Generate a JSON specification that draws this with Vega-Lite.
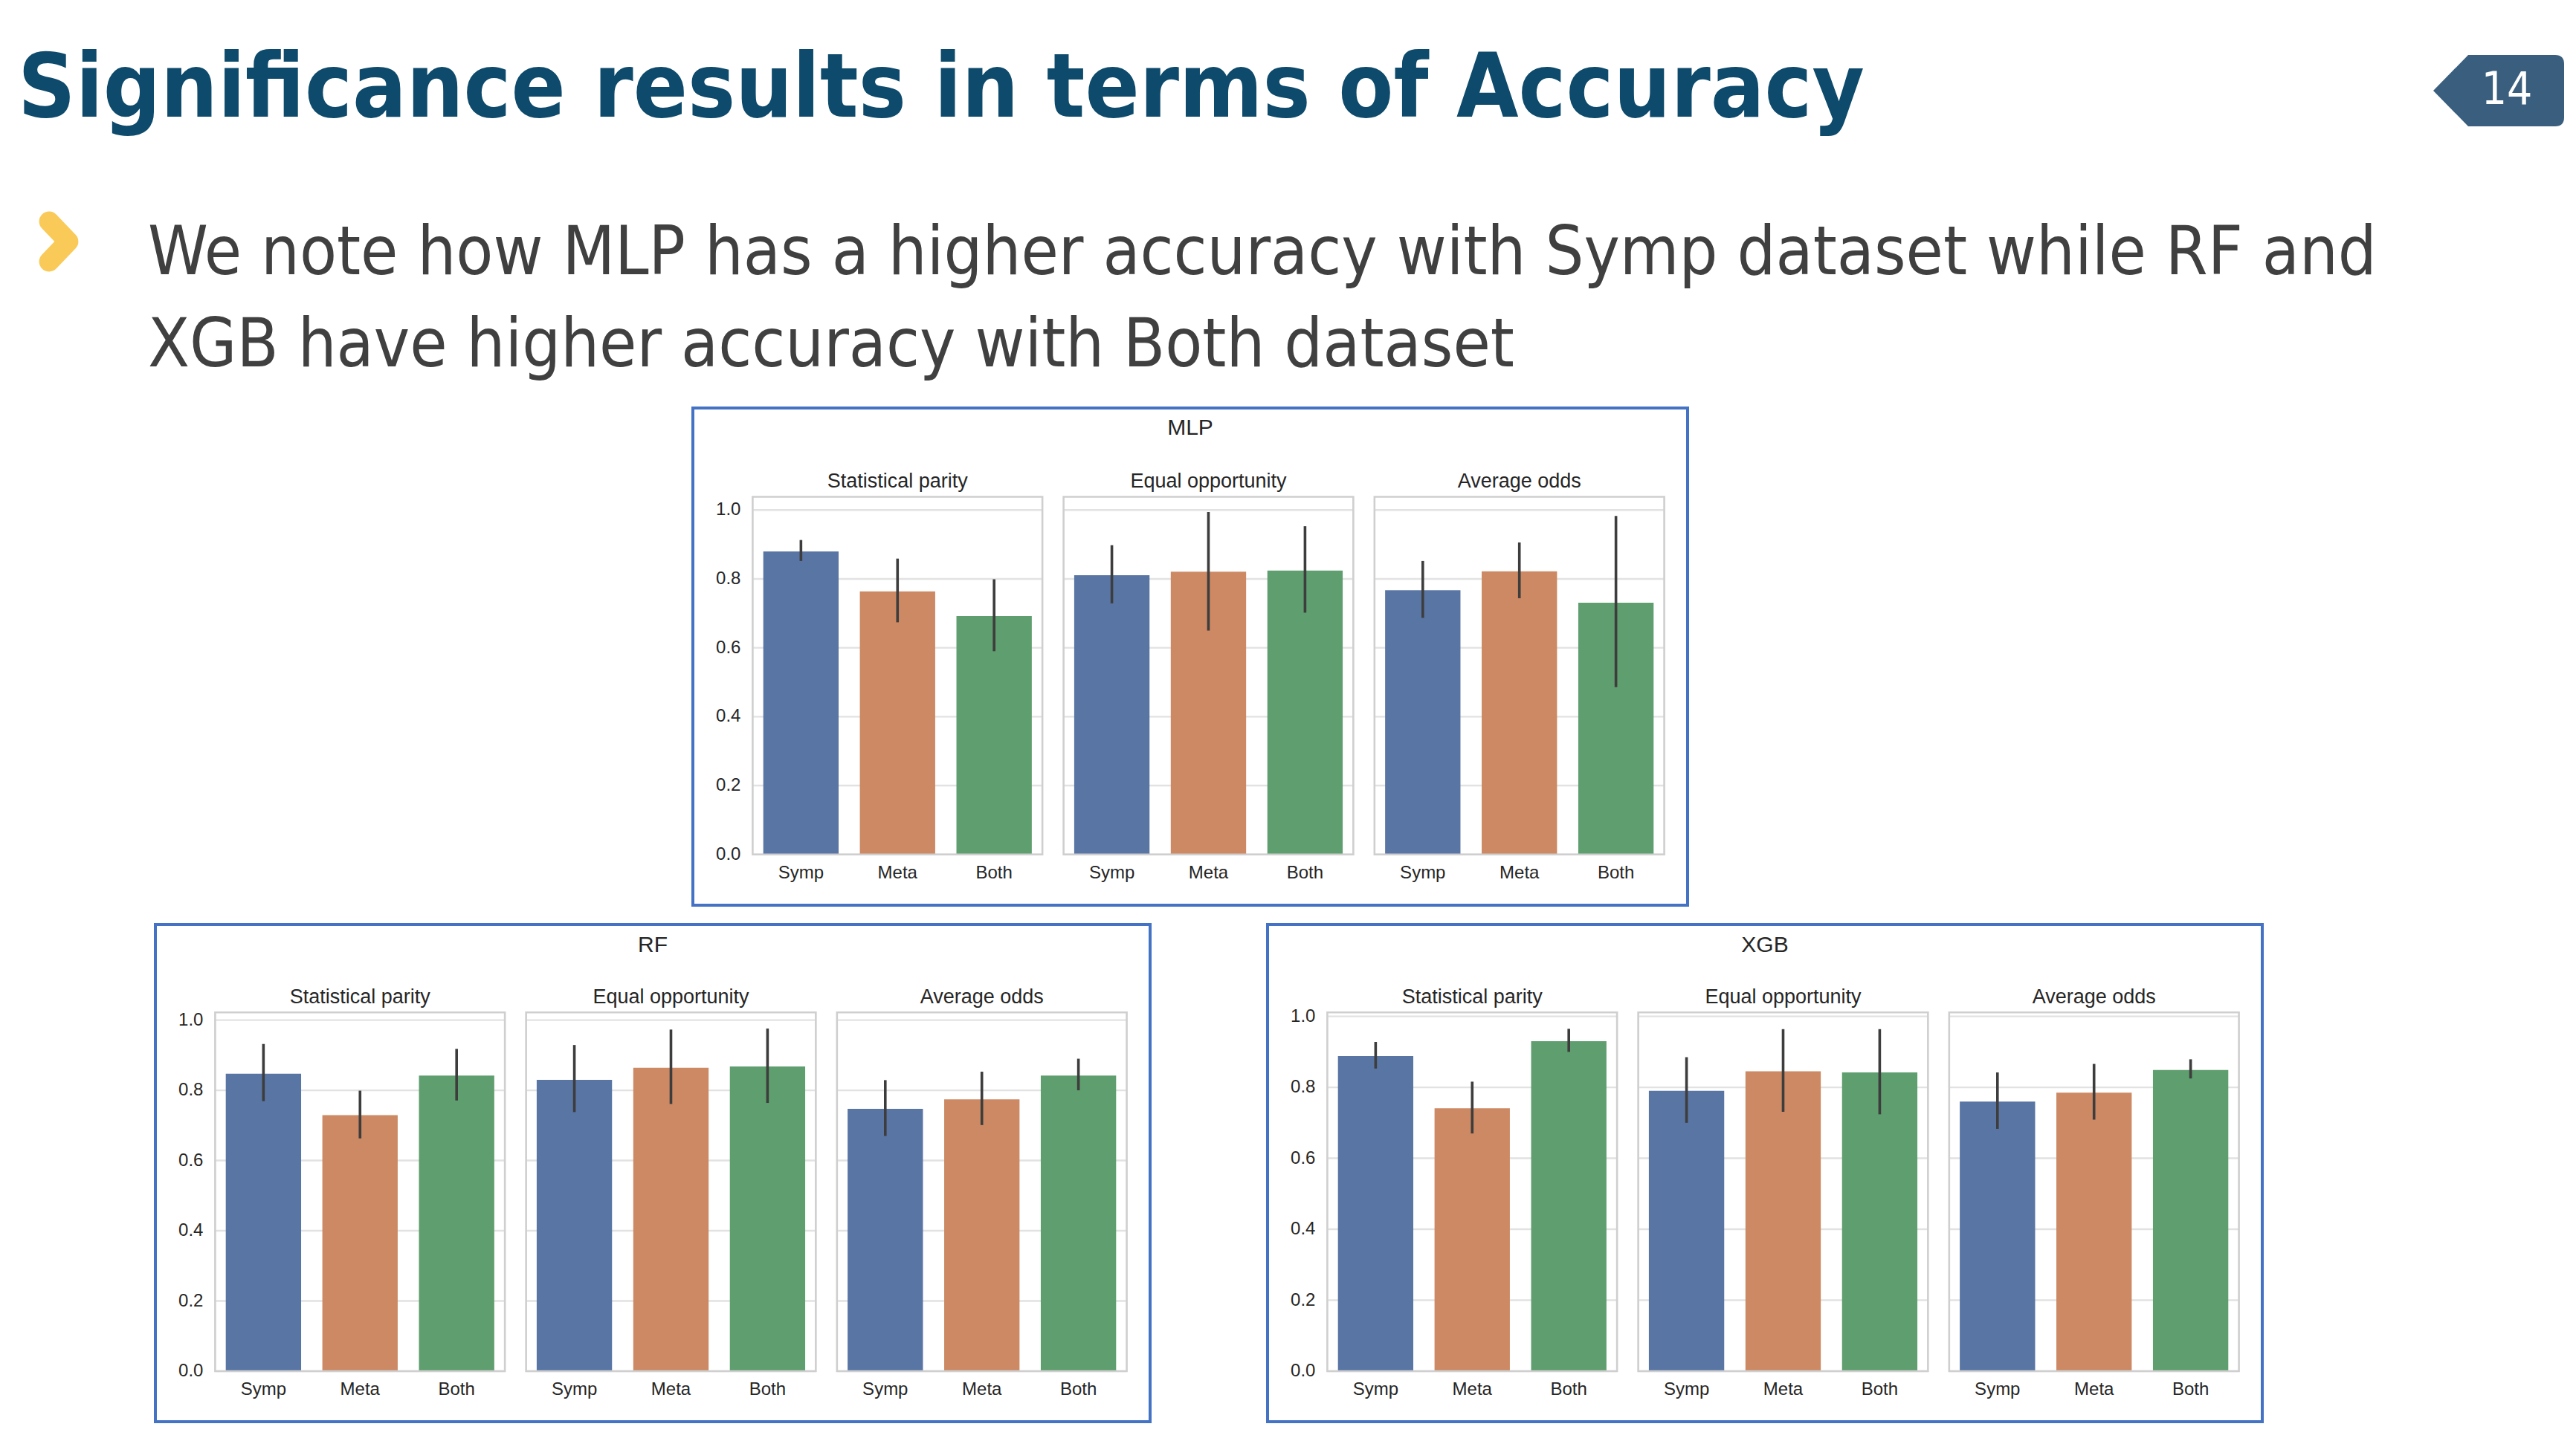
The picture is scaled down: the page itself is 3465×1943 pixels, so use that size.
{
  "$schema": "https://vega.github.io/schema/vega-lite/v6.json",
  "padding": 0,
  "background": "white",
  "spacing": 22,
  "config": {
    "view": {"stroke": null},
    "text": {"font": "Liberation Sans, Arial, sans-serif", "color": "#262626"}
  },
  "datasets": {
    "acc": [
      {"model": "MLP", "metric": "Statistical parity", "dataset": "Symp", "mean": 0.880, "lo": 0.852, "hi": 0.913},
      {"model": "MLP", "metric": "Statistical parity", "dataset": "Meta", "mean": 0.764, "lo": 0.674, "hi": 0.859},
      {"model": "MLP", "metric": "Statistical parity", "dataset": "Both", "mean": 0.692, "lo": 0.590, "hi": 0.799},
      {"model": "MLP", "metric": "Equal opportunity", "dataset": "Symp", "mean": 0.811, "lo": 0.729, "hi": 0.898},
      {"model": "MLP", "metric": "Equal opportunity", "dataset": "Meta", "mean": 0.821, "lo": 0.650, "hi": 0.994},
      {"model": "MLP", "metric": "Equal opportunity", "dataset": "Both", "mean": 0.824, "lo": 0.702, "hi": 0.953},
      {"model": "MLP", "metric": "Average odds", "dataset": "Symp", "mean": 0.767, "lo": 0.687, "hi": 0.852},
      {"model": "MLP", "metric": "Average odds", "dataset": "Meta", "mean": 0.822, "lo": 0.744, "hi": 0.906},
      {"model": "MLP", "metric": "Average odds", "dataset": "Both", "mean": 0.731, "lo": 0.486, "hi": 0.983},
      {"model": "RF", "metric": "Statistical parity", "dataset": "Symp", "mean": 0.847, "lo": 0.769, "hi": 0.932},
      {"model": "RF", "metric": "Statistical parity", "dataset": "Meta", "mean": 0.729, "lo": 0.663, "hi": 0.799},
      {"model": "RF", "metric": "Statistical parity", "dataset": "Both", "mean": 0.842, "lo": 0.771, "hi": 0.918},
      {"model": "RF", "metric": "Equal opportunity", "dataset": "Symp", "mean": 0.830, "lo": 0.738, "hi": 0.929},
      {"model": "RF", "metric": "Equal opportunity", "dataset": "Meta", "mean": 0.864, "lo": 0.761, "hi": 0.973},
      {"model": "RF", "metric": "Equal opportunity", "dataset": "Both", "mean": 0.868, "lo": 0.764, "hi": 0.976},
      {"model": "RF", "metric": "Average odds", "dataset": "Symp", "mean": 0.747, "lo": 0.670, "hi": 0.829},
      {"model": "RF", "metric": "Average odds", "dataset": "Meta", "mean": 0.774, "lo": 0.701, "hi": 0.853},
      {"model": "RF", "metric": "Average odds", "dataset": "Both", "mean": 0.842, "lo": 0.800, "hi": 0.890},
      {"model": "XGB", "metric": "Statistical parity", "dataset": "Symp", "mean": 0.888, "lo": 0.853, "hi": 0.928},
      {"model": "XGB", "metric": "Statistical parity", "dataset": "Meta", "mean": 0.741, "lo": 0.670, "hi": 0.816},
      {"model": "XGB", "metric": "Statistical parity", "dataset": "Both", "mean": 0.930, "lo": 0.900, "hi": 0.965},
      {"model": "XGB", "metric": "Equal opportunity", "dataset": "Symp", "mean": 0.790, "lo": 0.700, "hi": 0.885},
      {"model": "XGB", "metric": "Equal opportunity", "dataset": "Meta", "mean": 0.845, "lo": 0.731, "hi": 0.964},
      {"model": "XGB", "metric": "Equal opportunity", "dataset": "Both", "mean": 0.842, "lo": 0.724, "hi": 0.964},
      {"model": "XGB", "metric": "Average odds", "dataset": "Symp", "mean": 0.760, "lo": 0.683, "hi": 0.842},
      {"model": "XGB", "metric": "Average odds", "dataset": "Meta", "mean": 0.785, "lo": 0.709, "hi": 0.866},
      {"model": "XGB", "metric": "Average odds", "dataset": "Both", "mean": 0.849, "lo": 0.825, "hi": 0.879}
    ],
    "metrics": [
      {"metric": "Statistical parity"},
      {"metric": "Equal opportunity"},
      {"metric": "Average odds"}
    ],
    "grid": [
      {"metric": "Statistical parity", "v": [0, 0.2, 0.4, 0.6, 0.8, 1.0]},
      {"metric": "Equal opportunity", "v": [0, 0.2, 0.4, 0.6, 0.8, 1.0]},
      {"metric": "Average odds", "v": [0, 0.2, 0.4, 0.6, 0.8, 1.0]}
    ]
  },
  "vconcat": [
    {
      "spacing": 0,
      "hconcat": [
        {
          "width": 3257,
          "height": 1,
          "data": {"values": [{}]},
          "mark": {"type": "point", "opacity": 0},
          "title": {
            "text": "Significance results in terms of Accuracy",
            "orient": "bottom",
            "anchor": "start",
            "offset": 56,
            "dx": 24,
            "font": "Liberation Sans Narrow, DejaVu Sans Condensed, Liberation Sans",
            "fontSize": 120,
            "fontWeight": "bold",
            "color": "#0d4a6b"
          }
        },
        {
          "width": 208,
          "height": 238,
          "data": {"values": [{"page": "14"}]},
          "layer": [
            {
              "mark": {
                "type": "point",
                "shape": "M -1 0 L -0.466 -0.545 L 0.864 -0.545 Q 1 -0.545 1 -0.409 L 1 0.409 Q 1 0.545 0.864 0.545 L -0.466 0.545 Z",
                "size": 30976,
                "filled": true,
                "color": "#3a5f7e",
                "opacity": 1,
                "strokeWidth": 0
              }
            },
            {
              "mark": {
                "type": "text",
                "dx": 11,
                "fontSize": 60,
                "font": "Liberation Sans Narrow, DejaVu Sans Condensed, Liberation Sans",
                "color": "white",
                "baseline": "middle"
              },
              "encoding": {"text": {"field": "page"}}
            }
          ]
        }
      ]
    },
    {
      "spacing": 41,
      "hconcat": [
        {
          "width": 158,
          "height": 118,
          "data": {"values": [{}]},
          "mark": {
            "type": "point",
            "shape": "M -0.43 -0.9 L 0.43 0 L -0.43 0.9",
            "size": 3600,
            "filled": false,
            "stroke": "#f9c13c",
            "strokeWidth": 27,
            "strokeCap": "round",
            "strokeJoin": "round",
            "opacity": 1,
            "strokeOpacity": 0.85
          }
        },
        {
          "width": 3000,
          "height": 1,
          "data": {"values": [{}]},
          "mark": {"type": "point", "opacity": 0},
          "title": {
            "text": [
              "We note how MLP has a higher accuracy with Symp dataset while RF and",
              "XGB have higher accuracy with Both dataset"
            ],
            "orient": "bottom",
            "anchor": "start",
            "offset": 28,
            "font": "Liberation Sans Narrow, DejaVu Sans Condensed, Liberation Sans",
            "fontSize": 91,
            "fontWeight": "normal",
            "lineHeight": 123.5,
            "color": "#404040"
          }
        },
        {
          "width": 1,
          "height": 259,
          "data": {"values": [{}]},
          "mark": {"type": "point", "opacity": 0}
        }
      ]
    },
    {
      "spacing": 0,
      "hconcat": [
        {
          "width": 930,
          "height": 10,
          "data": {"values": [{}]},
          "mark": {"type": "point", "opacity": 0}
        },
        {
          "width": 1338,
          "height": 669,
          "view": {"stroke": "#4472c4", "strokeWidth": 4, "fill": "white"},
          "layer": [
            {
              "data": {"name": "grid"},
              "transform": [{"flatten": ["v"]}],
              "mark": {"type": "rect", "filled": false, "stroke": "#e2e2e2", "strokeWidth": 2.4},
              "encoding": {
                "x": {"field": "metric", "type": "nominal", "axis": null,
                  "scale": {"domain": ["Statistical parity", "Equal opportunity", "Average odds"], "paddingInner": 0.0681, "paddingOuter": 0.1337, "align": 0.719}},
                "y": {"field": "v", "type": "quantitative", "axis": null,
                  "scale": {"domain": [-0.1474, 1.2963], "nice": false, "zero": false}},
                "y2": {"field": "v"}
              }
            },
            {
              "data": {"name": "grid"},
              "transform": [{"flatten": ["v"]}, {"filter": "datum.metric === 'Statistical parity'"}],
              "mark": {"type": "text", "align": "right", "baseline": "middle", "dx": -16, "fontSize": 24},
              "encoding": {
                "x": {"field": "metric", "type": "nominal", "axis": null, "bandPosition": 0},
                "y": {"field": "v", "type": "quantitative", "axis": null},
                "text": {"field": "v", "type": "quantitative", "format": ".1f"}
              }
            },
            {
              "data": {"name": "acc"},
              "transform": [{"filter": "datum.model === 'MLP'"}],
              "mark": {"type": "bar"},
              "encoding": {
                "x": {"field": "metric", "type": "nominal", "axis": null},
                "xOffset": {"field": "dataset", "type": "nominal", "scale": {"domain": ["Symp", "Meta", "Both"], "paddingInner": 0.22, "paddingOuter": 0.11}},
                "y": {"field": "mean", "type": "quantitative", "axis": null},
                "y2": {"datum": 0},
                "color": {"field": "dataset", "type": "nominal", "legend": null,
                  "scale": {"domain": ["Symp", "Meta", "Both"], "range": ["#5975a4", "#cc8963", "#5f9e6e"]}}
              }
            },
            {
              "data": {"name": "acc"},
              "transform": [{"filter": "datum.model === 'MLP'"}],
              "mark": {"type": "rule", "color": "#3d3d3d", "strokeWidth": 3.6},
              "encoding": {
                "x": {"field": "metric", "type": "nominal", "axis": null},
                "xOffset": {"field": "dataset", "type": "nominal"},
                "y": {"field": "lo", "type": "quantitative", "axis": null},
                "y2": {"field": "hi"}
              }
            },
            {
              "data": {"name": "metrics"},
              "mark": {"type": "rect", "filled": false, "stroke": "#cfcfcf", "strokeWidth": 2.6},
              "encoding": {
                "x": {"field": "metric", "type": "nominal", "axis": null},
                "y": {"datum": 1.0384, "type": "quantitative", "axis": null},
                "y2": {"datum": 0}
              }
            },
            {
              "data": {"name": "acc"},
              "transform": [{"filter": "datum.model === 'MLP'"}],
              "mark": {"type": "text", "fontSize": 24, "baseline": "middle"},
              "encoding": {
                "x": {"field": "metric", "type": "nominal", "axis": null},
                "xOffset": {"field": "dataset", "type": "nominal"},
                "y": {"datum": -0.0546, "type": "quantitative", "axis": null},
                "text": {"field": "dataset"}
              }
            },
            {
              "data": {"name": "metrics"},
              "mark": {"type": "text", "fontSize": 27, "baseline": "middle"},
              "encoding": {
                "x": {"field": "metric", "type": "nominal", "axis": null},
                "y": {"datum": 1.0837, "type": "quantitative", "axis": null},
                "text": {"field": "metric"}
              }
            },
            {
              "data": {"values": [{"model": "MLP"}]},
              "mark": {"type": "text", "fontSize": 30, "baseline": "middle"},
              "encoding": {
                "y": {"datum": 1.238, "type": "quantitative", "axis": null},
                "text": {"field": "model"}
              }
            }
          ]
        }
      ]
    },
    {
      "spacing": 154,
      "hconcat": [
        {
          "width": 53,
          "height": 10,
          "data": {"values": [{}]},
          "mark": {"type": "point", "opacity": 0}
        },
        {
          "width": 1338,
          "height": 669,
          "view": {"stroke": "#4472c4", "strokeWidth": 4, "fill": "white"},
          "layer": [
            {
              "data": {"name": "grid"},
              "transform": [{"flatten": ["v"]}],
              "mark": {"type": "rect", "filled": false, "stroke": "#e2e2e2", "strokeWidth": 2.4},
              "encoding": {
                "x": {"field": "metric", "type": "nominal", "axis": null,
                  "scale": {"domain": ["Statistical parity", "Equal opportunity", "Average odds"], "paddingInner": 0.0681, "paddingOuter": 0.1337, "align": 0.719}},
                "y": {"field": "v", "type": "quantitative", "axis": null,
                  "scale": {"domain": [-0.1439, 1.2722], "nice": false, "zero": false}},
                "y2": {"field": "v"}
              }
            },
            {
              "data": {"name": "grid"},
              "transform": [{"flatten": ["v"]}, {"filter": "datum.metric === 'Statistical parity'"}],
              "mark": {"type": "text", "align": "right", "baseline": "middle", "dx": -16, "fontSize": 24},
              "encoding": {
                "x": {"field": "metric", "type": "nominal", "axis": null, "bandPosition": 0},
                "y": {"field": "v", "type": "quantitative", "axis": null},
                "text": {"field": "v", "type": "quantitative", "format": ".1f"}
              }
            },
            {
              "data": {"name": "acc"},
              "transform": [{"filter": "datum.model === 'RF'"}],
              "mark": {"type": "bar"},
              "encoding": {
                "x": {"field": "metric", "type": "nominal", "axis": null},
                "xOffset": {"field": "dataset", "type": "nominal", "scale": {"domain": ["Symp", "Meta", "Both"], "paddingInner": 0.22, "paddingOuter": 0.11}},
                "y": {"field": "mean", "type": "quantitative", "axis": null},
                "y2": {"datum": 0},
                "color": {"field": "dataset", "type": "nominal", "legend": null,
                  "scale": {"domain": ["Symp", "Meta", "Both"], "range": ["#5975a4", "#cc8963", "#5f9e6e"]}}
              }
            },
            {
              "data": {"name": "acc"},
              "transform": [{"filter": "datum.model === 'RF'"}],
              "mark": {"type": "rule", "color": "#3d3d3d", "strokeWidth": 3.6},
              "encoding": {
                "x": {"field": "metric", "type": "nominal", "axis": null},
                "xOffset": {"field": "dataset", "type": "nominal"},
                "y": {"field": "lo", "type": "quantitative", "axis": null},
                "y2": {"field": "hi"}
              }
            },
            {
              "data": {"name": "metrics"},
              "mark": {"type": "rect", "filled": false, "stroke": "#cfcfcf", "strokeWidth": 2.6},
              "encoding": {
                "x": {"field": "metric", "type": "nominal", "axis": null},
                "y": {"datum": 1.022, "type": "quantitative", "axis": null},
                "y2": {"datum": 0}
              }
            },
            {
              "data": {"name": "acc"},
              "transform": [{"filter": "datum.model === 'RF'"}],
              "mark": {"type": "text", "fontSize": 24, "baseline": "middle"},
              "encoding": {
                "x": {"field": "metric", "type": "nominal", "axis": null},
                "xOffset": {"field": "dataset", "type": "nominal"},
                "y": {"datum": -0.0529, "type": "quantitative", "axis": null},
                "text": {"field": "dataset"}
              }
            },
            {
              "data": {"name": "metrics"},
              "mark": {"type": "text", "fontSize": 27, "baseline": "middle"},
              "encoding": {
                "x": {"field": "metric", "type": "nominal", "axis": null},
                "y": {"datum": 1.0654, "type": "quantitative", "axis": null},
                "text": {"field": "metric"}
              }
            },
            {
              "data": {"values": [{"model": "RF"}]},
              "mark": {"type": "text", "fontSize": 30, "baseline": "middle"},
              "encoding": {
                "y": {"datum": 1.213, "type": "quantitative", "axis": null},
                "text": {"field": "model"}
              }
            }
          ]
        },
        {
          "width": 1338,
          "height": 669,
          "view": {"stroke": "#4472c4", "strokeWidth": 4, "fill": "white"},
          "layer": [
            {
              "data": {"name": "grid"},
              "transform": [{"flatten": ["v"]}],
              "mark": {"type": "rect", "filled": false, "stroke": "#e2e2e2", "strokeWidth": 2.4},
              "encoding": {
                "x": {"field": "metric", "type": "nominal", "axis": null,
                  "scale": {"domain": ["Statistical parity", "Equal opportunity", "Average odds"], "paddingInner": 0.0681, "paddingOuter": 0.1337, "align": 0.719}},
                "y": {"field": "v", "type": "quantitative", "axis": null,
                  "scale": {"domain": [-0.1424, 1.2589], "nice": false, "zero": false}},
                "y2": {"field": "v"}
              }
            },
            {
              "data": {"name": "grid"},
              "transform": [{"flatten": ["v"]}, {"filter": "datum.metric === 'Statistical parity'"}],
              "mark": {"type": "text", "align": "right", "baseline": "middle", "dx": -16, "fontSize": 24},
              "encoding": {
                "x": {"field": "metric", "type": "nominal", "axis": null, "bandPosition": 0},
                "y": {"field": "v", "type": "quantitative", "axis": null},
                "text": {"field": "v", "type": "quantitative", "format": ".1f"}
              }
            },
            {
              "data": {"name": "acc"},
              "transform": [{"filter": "datum.model === 'XGB'"}],
              "mark": {"type": "bar"},
              "encoding": {
                "x": {"field": "metric", "type": "nominal", "axis": null},
                "xOffset": {"field": "dataset", "type": "nominal", "scale": {"domain": ["Symp", "Meta", "Both"], "paddingInner": 0.22, "paddingOuter": 0.11}},
                "y": {"field": "mean", "type": "quantitative", "axis": null},
                "y2": {"datum": 0},
                "color": {"field": "dataset", "type": "nominal", "legend": null,
                  "scale": {"domain": ["Symp", "Meta", "Both"], "range": ["#5975a4", "#cc8963", "#5f9e6e"]}}
              }
            },
            {
              "data": {"name": "acc"},
              "transform": [{"filter": "datum.model === 'XGB'"}],
              "mark": {"type": "rule", "color": "#3d3d3d", "strokeWidth": 3.6},
              "encoding": {
                "x": {"field": "metric", "type": "nominal", "axis": null},
                "xOffset": {"field": "dataset", "type": "nominal"},
                "y": {"field": "lo", "type": "quantitative", "axis": null},
                "y2": {"field": "hi"}
              }
            },
            {
              "data": {"name": "metrics"},
              "mark": {"type": "rect", "filled": false, "stroke": "#cfcfcf", "strokeWidth": 2.6},
              "encoding": {
                "x": {"field": "metric", "type": "nominal", "axis": null},
                "y": {"datum": 1.0113, "type": "quantitative", "axis": null},
                "y2": {"datum": 0}
              }
            },
            {
              "data": {"name": "acc"},
              "transform": [{"filter": "datum.model === 'XGB'"}],
              "mark": {"type": "text", "fontSize": 24, "baseline": "middle"},
              "encoding": {
                "x": {"field": "metric", "type": "nominal", "axis": null},
                "xOffset": {"field": "dataset", "type": "nominal"},
                "y": {"datum": -0.0524, "type": "quantitative", "axis": null},
                "text": {"field": "dataset"}
              }
            },
            {
              "data": {"name": "metrics"},
              "mark": {"type": "text", "fontSize": 27, "baseline": "middle"},
              "encoding": {
                "x": {"field": "metric", "type": "nominal", "axis": null},
                "y": {"datum": 1.054, "type": "quantitative", "axis": null},
                "text": {"field": "metric"}
              }
            },
            {
              "data": {"values": [{"model": "XGB"}]},
              "mark": {"type": "text", "fontSize": 30, "baseline": "middle"},
              "encoding": {
                "y": {"datum": 1.2, "type": "quantitative", "axis": null},
                "text": {"field": "model"}
              }
            }
          ]
        }
      ]
    }
  ]
}
